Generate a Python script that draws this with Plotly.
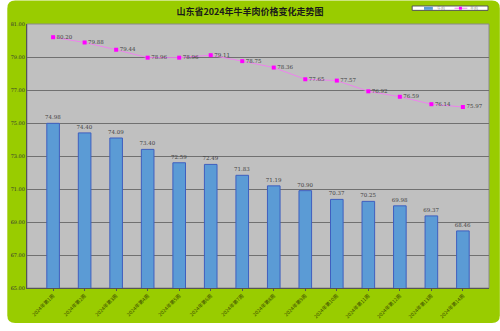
import plotly.graph_objects as go

weeks = [f"2024年第{i}周" for i in range(1, 15)]
beef = [74.98, 74.40, 74.09, 73.40, 72.59, 72.49, 71.83, 71.19, 70.90, 70.37, 70.25, 69.98, 69.37, 68.46]
mutton = [80.20, 79.88, 79.44, 78.96, 78.96, 79.11, 78.75, 78.36, 77.65, 77.57, 76.92, 76.59, 76.14, 75.97]
y_ticks = [65, 67, 69, 71, 73, 75, 77, 79, 81]
series_names = ["牛肉", "羊肉"]

GREEN = "#99CC00"
BAR = "#5B9BD5"
LINE = "#EE82EE"
MARK = "#FF00FF"
FONT = "Noto Sans CJK SC"
LABEL_FONT = dict(size=5.5, color="#404040", family="DejaVu Serif")

W, H = 500, 331
ML, MR, MT, MB = 20, 11, 24, 36
PW, PH = W - ML - MR, H - MT - MB


def px(x):
    return (x - ML) / PW


def py(y):
    return (H - MB - y) / PH


fig = go.Figure()
fig.add_trace(go.Bar(
    x=weeks, y=beef, name=series_names[0],
    marker=dict(color=BAR, line=dict(color="#3F5FBF", width=1)),
    width=0.4,
    text=[f"{v:.2f}" for v in beef], textposition="outside",
    constraintext="none",
    textfont=LABEL_FONT,
    cliponaxis=False,
))
fig.add_trace(go.Scatter(
    x=weeks, y=mutton, name=series_names[1], mode="lines+markers+text",
    line=dict(color=LINE, width=1),
    marker=dict(color=MARK, symbol="square", size=4),
    text=[f"{v:.2f}" for v in mutton], textposition="middle right",
    textfont=LABEL_FONT,
    cliponaxis=False,
))

# rounded green card behind everything, then the grey plotting area
L, R, B, T, rx, ry = px(0), px(W), py(H), py(0), 8 / PW, 8 / PH
card = (f"M {L+rx},{T} L {R-rx},{T} Q {R},{T} {R},{T-ry} L {R},{B+ry} "
        f"Q {R},{B} {R-rx},{B} L {L+rx},{B} Q {L},{B} {L},{B+ry} "
        f"L {L},{T-ry} Q {L},{T} {L+rx},{T} Z")
shapes = [
    dict(type="path", xref="paper", yref="paper", layer="below", path=card,
         fillcolor=GREEN, line=dict(width=0)),
    dict(type="rect", xref="paper", yref="paper", layer="below",
         x0=0, x1=1, y0=0, y1=1, fillcolor="#C0C0C0", line=dict(color="#8A8A8A", width=1)),
    # legend box
    dict(type="rect", xref="paper", yref="paper", layer="above",
         x0=px(411), x1=px(488), y0=py(10), y1=py(5.5),
         fillcolor="white", line=dict(color="#555555", width=1)),
    dict(type="rect", xref="paper", yref="paper", layer="above",
         x0=px(423), x1=px(432), y0=py(9.5), y1=py(6.3),
         fillcolor=BAR, line=dict(width=0)),
    dict(type="line", xref="paper", yref="paper", layer="above",
         x0=px(454), x1=px(467), y0=py(7.8), y1=py(7.8),
         line=dict(color=LINE, width=1)),
    dict(type="rect", xref="paper", yref="paper", layer="above",
         x0=px(458.5), x1=px(461.5), y0=py(9.3), y1=py(6.3),
         fillcolor=MARK, line=dict(width=0)),
]
annotations = [
    dict(text=series_names[0], xref="paper", yref="paper", x=px(434), y=py(7.8),
         xanchor="left", yanchor="middle", showarrow=False,
         font=dict(size=4, color="#888888", family=FONT)),
    dict(text=series_names[1], xref="paper", yref="paper", x=px(468), y=py(7.8),
         xanchor="left", yanchor="middle", showarrow=False,
         font=dict(size=4, color="#888888", family=FONT)),
]

fig.update_layout(
    width=W, height=H,
    margin=dict(l=ML, r=MR, t=MT, b=MB),
    paper_bgcolor="white",
    plot_bgcolor="rgba(0,0,0,0)",
    title=dict(text="<b>山东省2024年牛羊肉价格变化走势图</b>", x=0.5, xanchor="center",
               y=1 - 11.5 / H, yanchor="middle",
               font=dict(family=FONT, size=9, color="#1A1A1A")),
    showlegend=False,
    bargap=0.5,
    shapes=shapes,
    annotations=annotations,
)
fig.update_xaxes(
    tickangle=-45, tickfont=dict(size=5, color="#3A4A00", family=FONT),
    showline=True, linecolor="#555555", linewidth=1,
    ticks="outside", ticklen=2, tickcolor="#555555",
    showgrid=False,
)
fig.update_yaxes(
    range=[65, 81], tickvals=y_ticks, ticktext=[f"{v:.2f}" for v in y_ticks],
    tickfont=dict(size=5, color="#333333", family="DejaVu Serif"),
    showgrid=True, gridcolor="#707070", gridwidth=1,
    showline=True, linecolor="#555555", linewidth=1,
    ticks="", zeroline=False,
)

fig.write_html("out.html")
